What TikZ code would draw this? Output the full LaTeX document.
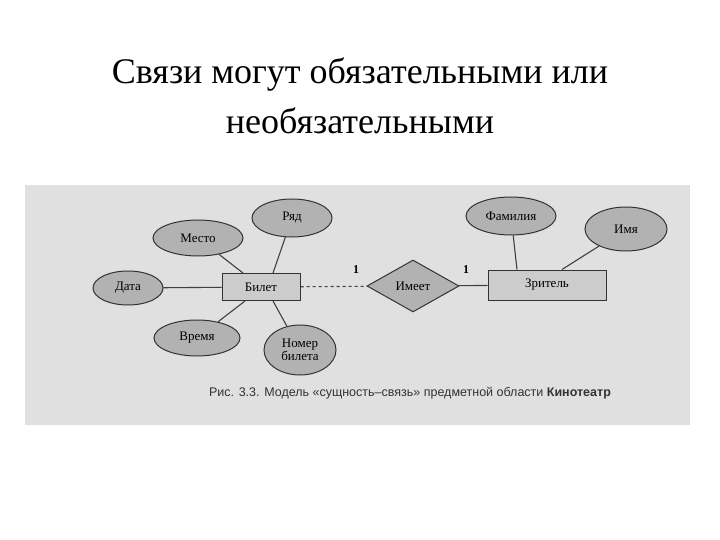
\documentclass[tikz,border=0pt]{standalone}
\usepackage{fontspec}
\setmainfont{Liberation Serif}
\newfontfamily\capfont{Liberation Sans}
\usetikzlibrary{shapes.geometric}
\begin{document}
\begin{tikzpicture}[x=1pt,y=-1pt,
 attr/.style={ellipse,draw=black!80,fill=black!30,line width=1pt,inner sep=0pt,font=\fontsize{13}{14}\selectfont},
 ent/.style={rectangle,draw=black!80,fill=black!20,line width=1pt,font=\fontsize{13}{14}\selectfont},
 lnk/.style={draw=black!75,line width=1.1pt}]
\useasboundingbox (0,0) rectangle (720,540);
\fill[white] (0,0) rectangle (720,540);
\node[font=\fontsize{36}{50}\selectfont,align=center] (title) at (360,96) {Связи могут обязательными или\\необязательными};
\fill[black!12] (25,185) rectangle (690,425);
\node[ent,minimum width=78,minimum height=27] (bil) at (261,287) {Билет};
\node[ent,minimum width=118,minimum height=30] (zr) at (547,285) {Зритель};
\node[diamond,draw=black!80,fill=black!30,line width=1pt,minimum width=92,minimum height=52,inner sep=0pt,font=\fontsize{13}{14}\selectfont] (im) at (413,286) {Имеет};
\node[attr,minimum width=70,minimum height=34] (data) at (128,288) {Дата};
\node[attr,minimum width=90,minimum height=36] (mesto) at (198,238) {Место};
\node[attr,minimum width=80,minimum height=38] (ryad) at (292,218) {Ряд};
\node[attr,minimum width=86,minimum height=36] (vremya) at (197,338) {Время};
\node[attr,minimum width=72,minimum height=50,align=center,font=\fontsize{13}{12}\selectfont] (nomer) at (300,350) {Номер\\билета};
\node[attr,minimum width=90,minimum height=38] (fam) at (511,216) {Фамилия};
\node[attr,minimum width=82,minimum height=44] (imya) at (626,229) {Имя};
\draw[lnk] (data) -- (bil);
\draw[lnk] (mesto) -- ([xshift=-18]bil.north);
\draw[lnk] (ryad) -- ([xshift=12]bil.north);
\draw[lnk] (vremya) -- ([xshift=-16]bil.south);
\draw[lnk] (nomer) -- ([xshift=12]bil.south);
\draw[lnk,dashed] (bil) -- (im);
\draw[lnk] (im) -- (zr);
\draw[lnk] (fam) -- ([xshift=-30]zr.north);
\draw[lnk] (imya) -- ([xshift=15]zr.north);
\node[font=\bfseries\fontsize{12}{13}\selectfont] (one1) at (356,270) {1};
\node[font=\bfseries\fontsize{12}{13}\selectfont] (one2) at (466,270) {1};
\node[font=\capfont\fontsize{12.5}{14}\selectfont,text=black!80] (cap) at (410,393) {Рис. 3.3. Модель «сущность–связь» предметной области \textbf{Кинотеатр}};
\end{tikzpicture}
\end{document}
